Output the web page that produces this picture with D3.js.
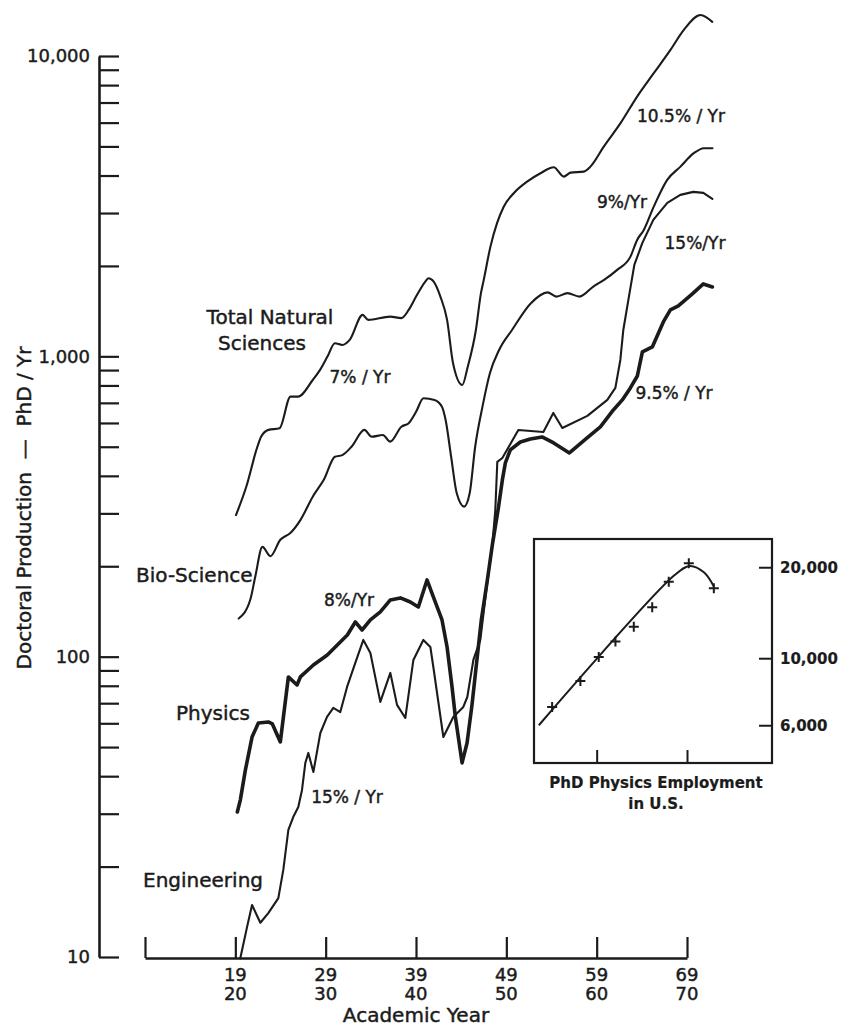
<!DOCTYPE html>
<html>
<head>
<meta charset="utf-8">
<script src="https://cdn.jsdelivr.net/npm/d3@7"></script>
<style>
  body { margin: 0; background: #fff; }
  svg { display: block; }
  text { paint-order: stroke; stroke: #1b1b1b; stroke-width: 0.45px; }
</style>
</head>
<body>
<svg id="chart" width="853" height="1026"></svg>
<script>
// Doctoral production per academic year, [year, PhDs per year]
const totalNatural = [
  [1920.07, 296], [1921.21, 368], [1922.44, 500], [1922.85, 540], [1923.67, 569],
  [1924.89, 576], [1926.11, 734], [1926.93, 734], [1928.57, 834], [1929.38, 901],
  [1930.2, 998], [1931.02, 1106], [1931.84, 1091], [1932.66, 1134], [1934.09, 1374],
  [1934.7, 1322], [1937.15, 1356], [1938.37, 1340], [1939.19, 1427], [1940.01, 1581],
  [1941.03, 1774], [1941.37, 1820], [1941.96, 1774], [1942.7, 1581], [1943.44, 1322],
  [1944.1, 948], [1945.12, 803], [1945.73, 924], [1946.63, 1224], [1947.19, 1623],
  [1947.5, 1797], [1948.24, 2319], [1948.98, 2781], [1949.71, 3150], [1950.82, 3493],
  [1952.3, 3817], [1953.78, 4071], [1955.25, 4263], [1956.36, 3967], [1957.1, 4090],
  [1958.57, 4121], [1959.31, 4282], [1960.79, 4993], [1962.64, 5974], [1964.48, 7327],
  [1966.32, 8765], [1968.17, 10480], [1969.65, 12220], [1971.5, 13700], [1972.8, 12990]
];

const bioScience = [
  [1920.37, 134], [1921.66, 155], [1922.21, 185], [1923.0, 232], [1923.88, 216],
  [1924.98, 245], [1926.09, 258], [1927.2, 285], [1928.57, 341], [1929.79, 388],
  [1931.02, 463], [1931.84, 469], [1932.86, 500], [1934.29, 569], [1935.1, 540],
  [1936.33, 547], [1937.15, 520], [1938.38, 583], [1939.19, 599], [1940.01, 654],
  [1940.83, 725], [1942.05, 716], [1942.87, 680], [1943.28, 614], [1943.89, 463],
  [1944.51, 350], [1945.33, 316], [1945.94, 350], [1946.55, 500], [1947.36, 680],
  [1948.18, 878], [1949.2, 1050], [1950.63, 1224], [1952.72, 1503], [1954.55, 1633],
  [1955.55, 1581], [1956.77, 1623], [1958.1, 1581], [1959.63, 1707], [1960.82, 1797],
  [1962.27, 1940], [1963.74, 2148], [1964.48, 2441], [1965.22, 2636], [1966.32, 3150],
  [1967.81, 3868], [1969.28, 4282], [1970.75, 4746], [1971.86, 4932], [1972.82, 4930]
];

const physics = [
  [1920.22, 30.4], [1920.55, 33.3], [1921.11, 41.9], [1921.85, 54.0], [1922.55, 60.1],
  [1923.65, 60.6], [1924.1, 59.7], [1924.98, 52.0], [1925.87, 85.6], [1926.83, 80.5],
  [1927.2, 85.6], [1928.64, 93.8], [1930.18, 101.3], [1931.62, 111.9], [1932.4, 118.1],
  [1933.28, 130.5], [1934.03, 122.7], [1934.95, 132.5], [1936.05, 140.9], [1937.16, 154.5],
  [1938.27, 156.9], [1939.37, 152.1], [1940.26, 146.4], [1941.22, 180.1], [1941.92, 158.1],
  [1942.88, 132.5], [1943.44, 107.7], [1943.99, 79.3], [1944.36, 63.0], [1945.1, 44.3],
  [1945.65, 51.6], [1946.2, 69.1], [1946.68, 93.8], [1947.23, 132.5], [1947.9, 180.1],
  [1948.45, 235.5], [1949.12, 312.7], [1949.56, 387.7], [1949.89, 441.6], [1950.44, 487.9],
  [1951.55, 518.6], [1952.66, 530.7], [1953.95, 539], [1955.24, 514.7], [1956.98, 476.8],
  [1958.94, 535], [1960.41, 582], [1961.85, 663], [1962.84, 716], [1963.73, 785],
  [1964.5, 860], [1965.06, 1034], [1966.16, 1075], [1967.38, 1302], [1968.16, 1427],
  [1969.04, 1472], [1970.59, 1614], [1971.81, 1742], [1972.81, 1702]
];

const engineering = [
  [1920.55, 9.9], [1921.3, 12.6], [1921.85, 14.9], [1922.77, 13.0], [1923.65, 14.0],
  [1924.76, 15.7], [1925.31, 19.5], [1925.87, 26.5], [1926.42, 29.3], [1926.97, 31.6],
  [1927.38, 36.0], [1927.75, 44.3], [1928.08, 47.8], [1928.64, 41.3], [1929.41, 55.7],
  [1930.15, 63.0], [1930.85, 67.5], [1931.62, 65.4], [1932.37, 79.3], [1933.28, 95.3],
  [1934.17, 113.7], [1934.95, 102.9], [1936.05, 70.7], [1937.16, 88.3], [1937.9, 69.1],
  [1938.82, 62.5], [1939.71, 97.5], [1940.81, 113.7], [1941.59, 107.7], [1941.92, 92.4],
  [1943.03, 54.0], [1944.13, 63.0], [1945.24, 68.0], [1945.68, 73.4], [1946.35, 97.5],
  [1947.12, 113.7], [1947.79, 166.8], [1948.45, 235.5], [1948.78, 307.9], [1949.0, 445],
  [1949.56, 458.8], [1951.33, 568.8], [1954.1, 560], [1955.2, 648], [1956.2, 577.5],
  [1958.97, 633.3], [1961.18, 716], [1962.07, 785], [1962.62, 972.7], [1962.95, 1224],
  [1963.51, 1541], [1964.17, 2016], [1965.06, 2386], [1966.27, 2846], [1967.82, 3242],
  [1969.26, 3448], [1970.7, 3528], [1971.81, 3501], [1972.81, 3343]
];

// Inset: PhD physicists employed in the U.S.
const employmentSurvey = [
  [1955.07, 6900], [1958.2, 8400], [1960.23, 10100], [1962.08, 11350], [1964.11, 12700],
  [1966.15, 14750], [1967.98, 17900], [1970.2, 20600], [1972.97, 17050]
];
const employmentTrend = [
  [1953.6, 6000], [1968.6, 18800], [1970.3, 20200], [1971.9, 19200], [1973.0, 17200]
];

// Axis ticks and labels
const yTickValues = [10, 100, 1000, 10000];
const yTickLabels = ["10", "100", "1,000", "10,000"];
const xTickValues = [1920, 1930, 1940, 1950, 1960, 1970];
const xTickUpper = ["19", "29", "39", "49", "59", "69"];
const xTickLower = ["20", "30", "40", "50", "60", "70"];
const insetTickValues = [6000, 10000, 20000];
const insetTickLabels = ["6,000", "10,000", "20,000"];
const insetXTickValues = [1960, 1970];

// Curve names: [text, x, baseline, anchor]
const seriesLabels = [
  ["Total Natural", 270, 324, "middle"],
  ["Sciences", 262, 350, "middle"],
  ["Bio-Science", 136, 582, "start"],
  ["Physics", 250, 720, "end"],
  ["Engineering", 143, 887, "start"]
];
// Growth-rate notes: [text, centre x, baseline]
const rateLabels = [
  ["10.5% / Yr", 681, 122],
  ["9%/Yr", 622, 208],
  ["15%/Yr", 695, 249],
  ["7% / Yr", 360, 383],
  ["9.5% / Yr", 674, 399],
  ["8%/Yr", 349, 606],
  ["15% / Yr", 347, 803]
];

const ink = "#1b1b1b";
const font = "'DejaVu Sans', 'Liberation Sans', sans-serif";

const svg = d3.select("#chart");
svg.append("rect").attr("width", 853).attr("height", 1026).attr("fill", "#fff");

const x = d3.scaleLinear().domain([1910, 1970]).range([145, 687]);
const y = d3.scaleLog().domain([10, 10000]).range([957, 56]);

// Vertical (log) axis, ticks pointing into the plot
const yAxis = d3.axisLeft(y)
  .tickValues(y.ticks())
  .tickSizeInner(-20)
  .tickSizeOuter(0)
  .tickPadding(9)
  .tickFormat(d => {
    const i = yTickValues.indexOf(d);
    return i >= 0 ? yTickLabels[i] : "";
  });

svg.append("g")
  .attr("transform", "translate(99,0)")
  .call(yAxis)
  .call(g => g.select(".domain").attr("stroke", ink).attr("stroke-width", 2.6))
  .call(g => g.selectAll(".tick line").attr("stroke", ink).attr("stroke-width", 2.2))
  .call(g => g.selectAll(".tick text")
    .attr("fill", ink).attr("font-family", font).attr("font-size", 18));

// Horizontal axis with upward ticks
const xAxis = d3.axisBottom(x)
  .tickValues([1910].concat(xTickValues))
  .tickSizeInner(-21)
  .tickSizeOuter(0)
  .tickFormat("");

svg.append("g")
  .attr("transform", "translate(0,958)")
  .call(xAxis)
  .call(g => g.select(".domain").attr("stroke", ink).attr("stroke-width", 2.6))
  .call(g => g.selectAll(".tick line").attr("stroke", ink).attr("stroke-width", 2.2));

const xLabels = svg.append("g")
  .attr("font-family", font).attr("font-size", 18)
  .attr("fill", ink).attr("text-anchor", "middle");
xLabels.selectAll("text.upper").data(xTickValues).join("text")
  .attr("class", "upper").attr("x", d => x(d)).attr("y", 981)
  .text((d, i) => xTickUpper[i]);
xLabels.selectAll("text.lower").data(xTickValues).join("text")
  .attr("class", "lower").attr("x", d => x(d)).attr("y", 1000)
  .text((d, i) => xTickLower[i]);

svg.append("text")
  .attr("x", x(1940)).attr("y", 1022)
  .attr("text-anchor", "middle")
  .attr("font-family", font).attr("font-size", 20).attr("fill", ink)
  .text("Academic Year");

svg.append("text")
  .attr("transform", "translate(31,508) rotate(-90)")
  .attr("text-anchor", "middle")
  .attr("font-family", font).attr("font-size", 20).attr("fill", ink)
  .attr("xml:space", "preserve")
  .text("Doctoral Production  —  PhD / Yr");

// Series
const line = d3.line().x(d => x(d[0])).y(d => y(d[1]));
const smooth = d3.line().x(d => x(d[0])).y(d => y(d[1])).curve(d3.curveMonotoneX);

const series = [
  { data: totalNatural, gen: smooth, width: 2.1 },
  { data: bioScience, gen: smooth, width: 2.1 },
  { data: engineering, gen: line, width: 2.1 },
  { data: physics, gen: line, width: 3.6 }
];
svg.append("g")
  .attr("fill", "none").attr("stroke", ink)
  .attr("stroke-linejoin", "round").attr("stroke-linecap", "round")
  .selectAll("path").data(series).join("path")
  .attr("stroke-width", d => d.width)
  .attr("d", d => d.gen(d.data));

// Labels
svg.append("g")
  .attr("font-family", font).attr("fill", ink).attr("font-size", 20)
  .selectAll("text").data(seriesLabels).join("text")
  .attr("x", d => d[1]).attr("y", d => d[2])
  .attr("text-anchor", d => d[3])
  .text(d => d[0]);

svg.append("g")
  .attr("font-family", font).attr("fill", ink)
  .attr("font-size", 17).attr("text-anchor", "middle")
  .selectAll("text").data(rateLabels).join("text")
  .attr("x", d => d[1]).attr("y", d => d[2])
  .text(d => d[0]);

// Inset panel
const box = { left: 534, right: 772, top: 539, bottom: 763 };
const xIn = d3.scaleLinear()
  .domain([x.invert(box.left), x.invert(box.right)])
  .range([box.left, box.right]);
const yIn = d3.scaleLog().domain([4500, 24800]).range([box.bottom, box.top]);

const inset = svg.append("g");
inset.append("rect")
  .attr("x", box.left).attr("y", box.top)
  .attr("width", box.right - box.left).attr("height", box.bottom - box.top)
  .attr("fill", "#fff").attr("stroke", ink).attr("stroke-width", 2.2);

inset.append("g")
  .attr("transform", `translate(0,${box.bottom})`)
  .call(d3.axisBottom(xIn).tickValues(insetXTickValues).tickSizeInner(-13).tickSizeOuter(0).tickFormat(""))
  .call(g => g.select(".domain").remove())
  .call(g => g.selectAll(".tick line").attr("stroke", ink).attr("stroke-width", 2));

inset.append("g")
  .attr("transform", `translate(${box.right},0)`)
  .call(d3.axisRight(yIn).tickValues(insetTickValues).tickSizeInner(-13).tickSizeOuter(0).tickPadding(8)
    .tickFormat((d, i) => insetTickLabels[i]))
  .call(g => g.select(".domain").remove())
  .call(g => g.selectAll(".tick line").attr("stroke", ink).attr("stroke-width", 2))
  .call(g => g.selectAll(".tick text").attr("fill", ink).attr("font-family", font)
    .attr("font-size", 15).attr("font-weight", "bold").style("stroke-width", "0.2px"));

inset.append("path")
  .attr("fill", "none").attr("stroke", ink).attr("stroke-width", 2)
  .attr("d", d3.line().x(d => xIn(d[0])).y(d => yIn(d[1])).curve(d3.curveCatmullRom)(employmentTrend));

inset.append("g")
  .attr("stroke", ink).attr("stroke-width", 2).attr("fill", "none")
  .selectAll("path").data(employmentSurvey).join("path")
  .attr("transform", d => `translate(${xIn(d[0])},${yIn(d[1])})`)
  .attr("d", "M-5,0H5M0,-5V5");

inset.append("g")
  .attr("font-family", font).attr("font-size", 15).attr("font-weight", "bold")
  .attr("fill", ink).attr("text-anchor", "middle")
  .selectAll("text").data([["PhD Physics Employment", 788], ["in U.S.", 809]]).join("text")
  .attr("x", 656).attr("y", d => d[1])
  .style("stroke-width", "0.2px")
  .text(d => d[0]);
</script>
</body>
</html>
